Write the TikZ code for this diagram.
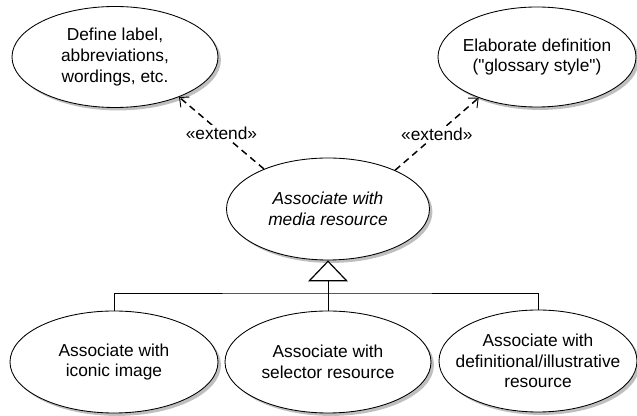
\documentclass[tikz,border=0pt]{standalone}
\usepackage{fontspec}
\setmainfont{Liberation Sans}[Ligatures=TeXOff]
\usetikzlibrary{shapes.geometric,shadows,arrows.meta}

\newcommand{\ucfont}{\fontsize{13}{15.5}\selectfont}

\tikzset{
  usecase/.style={ellipse, draw, fill=white, line width=0.65pt,
    inner xsep=-12pt, inner ysep=0pt, align=center, font=\ucfont,
    drop shadow={shadow xshift=2.2pt, shadow yshift=-2.2pt, opacity=0.5}},
  extend/.style={dashed, dash pattern=on 5pt off 3.5pt, line width=1.1pt,
    -{Straight Barb[length=5.5pt, width=10pt, line width=0.7pt]}},
  stereo/.style={fill=white, inner sep=1.5pt, font=\ucfont},
  generalize/.style={line width=0.65pt,
    -{Triangle[length=15.75pt, width=30pt, fill=white, line width=0.9pt]}}
}

\begin{document}
\begin{tikzpicture}[x=0.75pt, y=-0.75pt]
    % Page frame
    \useasboundingbox (0,0) rectangle (637,416);

    % Extending use cases on top
    \node[usecase, minimum width=154.5pt, minimum height=75.75pt] (define) at (115,57)
        {Define label,\\abbreviations,\\wordings, etc.};
    \node[usecase, minimum width=148.5pt, minimum height=75pt] (gloss) at (537,57)
        {Elaborate definition\\("glossary style")};

    % Abstract use case
    \node[usecase, minimum width=152.25pt, minimum height=76.5pt, font=\ucfont\itshape] (media) at (328,209)
        {Associate with\\media resource};

    % Specialised use cases below
    \node[usecase, minimum width=156pt, minimum height=76.5pt] (icon) at (114,362)
        {Associate with\\iconic image};
    \node[usecase, minimum width=154.5pt, minimum height=76.5pt] (selector) at (328,362)
        {Associate with\\selector resource};
    \node[usecase, minimum width=148.5pt, minimum height=76.5pt] (defres) at (538,361)
        {Associate with\\definitional/illustrative\\resource};

    % Extend relations
    \draw[extend] (media.148.6) -- node[stereo] {«extend»} (define.-32.4);
    \draw[extend] (media.30.6) -- node[stereo] {«extend»} (gloss.-145);

    % Generalization tree
    \coordinate (fork) at (328,293);
    \draw[line width=0.65pt] (icon.north) |- (fork) -| (defres.north);
    \draw[generalize] (selector.north) -- (media.south);
\end{tikzpicture}
\end{document}
